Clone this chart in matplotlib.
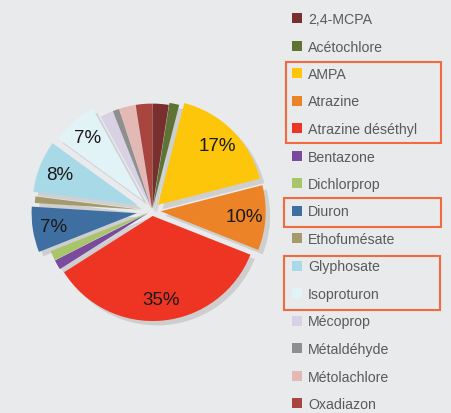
import numpy as np
import matplotlib
matplotlib.use('Agg')
import matplotlib.pyplot as plt
from matplotlib.patches import Rectangle

# ── data ─────────────────────────────────────────────────────────────────────
labels = ["2,4-MCPA", "Acétochlore", "AMPA", "Atrazine", "Atrazine déséthyl",
          "Bentazone", "Dichlorprop", "Diuron", "Ethofumésate", "Glyphosate",
          "Isoproturon", "Mécoprop", "Métaldéhyde", "Métolachlore", "Oxadiazon"]
values = [2.5, 1.5, 17, 10, 35, 1.5, 1.5, 7, 1, 8, 7, 2, 1, 2.5, 2.5]
shown_pct = ["", "", "17%", "10%", "35%", "", "", "7%", "", "8%", "7%", "", "", "", ""]
colors = ["#7a2f2f", "#5f7335", "#fdc60a", "#ec8326", "#ee3524",
          "#7a4a9c", "#a9c56a", "#3e6fa0", "#a59a6b", "#a8d9e6",
          "#e2f3f8", "#d8d0e3", "#8f8f8f", "#e3b8b5", "#a8453f"]
explode = [0.02, 0.04, 0.08, 0.08, 0.05, 0.04, 0.04, 0.15, 0.12, 0.15,
           0.13, 0.02, 0.02, 0.02, 0.02]

BG = "#e9eaec"
fig = plt.figure(figsize=(4.51, 4.14), dpi=100, facecolor=BG)

# ── pie ──────────────────────────────────────────────────────────────────────
ax = fig.add_axes([0.058, 0.184, 0.559, 0.609])
ax.set_facecolor(BG)
wedges, _ = ax.pie(values, colors=colors, explode=explode, startangle=90,
                   counterclock=False, radius=1.0,
                   shadow=dict(ox=0.03, oy=-0.03, shade=0.9, alpha=0.12),
                   wedgeprops=dict(linewidth=0))
for w, txt in zip(wedges, shown_pct):
    if not txt:
        continue
    ang = np.deg2rad((w.theta1 + w.theta2) / 2)
    cx, cy = w.center
    r = 0.8
    ax.text(cx + r * np.cos(ang), cy + r * np.sin(ang), txt,
            ha="center", va="center", fontsize=13.5, color="#1a1a1a",
            family="Liberation Sans")
ax.set_xlim(-1.2, 1.2)
ax.set_ylim(-1.2, 1.2)
ax.set_aspect("equal")
ax.axis("off")

# ── legend ───────────────────────────────────────────────────────────────────
y0, dy = 19, 27.5
for i, (lab, col) in enumerate(zip(labels, colors)):
    y = y0 + i * dy
    fig.patches.append(Rectangle((292 / 451, 1 - (y + 5) / 414), 10 / 451, 10 / 414,
                                 transform=fig.transFigure, facecolor=col,
                                 edgecolor="none"))
    fig.text(308 / 451, 1 - (y + 1) / 414, lab, ha="left", va="center",
             fontsize=10.2, color="#5a5a5a", family="Liberation Sans")

# orange highlight boxes
for (x0, ya, x1, yb) in [(286, 63, 441, 144), (284, 199, 441, 228), (284, 257, 440, 311)]:
    fig.patches.append(Rectangle((x0 / 451, 1 - yb / 414), (x1 - x0) / 451, (yb - ya) / 414,
                                 transform=fig.transFigure, facecolor="none",
                                 edgecolor="#f26a3d", linewidth=1.5))

fig.savefig("out.png", dpi=100, facecolor=BG)
